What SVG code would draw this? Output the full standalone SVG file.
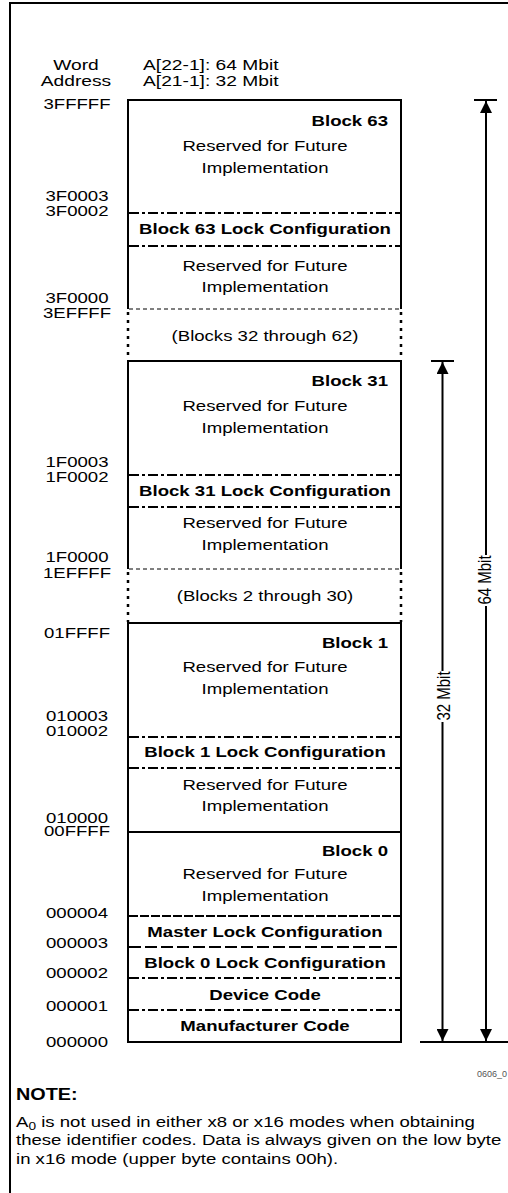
<svg xmlns="http://www.w3.org/2000/svg" width="508" height="1193" viewBox="0 0 508 1193">
<style>
text{font-family:"Liberation Sans",Arial,sans-serif;font-size:15px;fill:#000}
.h{font-size:15.5px}
.m{text-anchor:middle}
.e{text-anchor:end}
.b{font-weight:bold}
.solid{stroke:#000;stroke-width:2;fill:none}
.dd{stroke:#000;stroke-width:2;stroke-dasharray:10 3 3 3;fill:none}
.dl{stroke:#000;stroke-width:2;stroke-dasharray:12 4;fill:none}
.dt{stroke:#000;stroke-width:2;stroke-dasharray:9 2;fill:none}
.thin{stroke:#000;stroke-width:1;stroke-dasharray:4 3;fill:none}
.vdot{stroke:#000;stroke-width:2.5;stroke-dasharray:3 5;fill:none}
.ln{stroke:#000;stroke-width:2;fill:none}
</style>
<defs>
<marker id="ah" viewBox="0 0 10 10" refX="10" refY="5" markerWidth="12" markerHeight="12" markerUnits="userSpaceOnUse" orient="auto">
<path d="M0,0 L10,5 L0,10 z" fill="#000"/>
</marker>
</defs>
<rect width="508" height="1193" fill="#fff"/>
<rect x="10" y="3" width="520" height="1220" fill="none" stroke="#000" stroke-width="2"/>

<g id="header">
<text class="m h" transform="matrix(1.24 0 0 1 76 70)">Word</text>
<text class="m h" transform="matrix(1.24 0 0 1 76 86)">Address</text>
<text class="h" transform="matrix(1.24 0 0 1 143 70)">A[22-1]: 64 Mbit</text>
<text class="h" transform="matrix(1.24 0 0 1 143 86)">A[21-1]: 32 Mbit</text>
</g>

<g id="addresses">
<text class="m" transform="matrix(1.24 0 0 1 77 109)">3FFFFF</text>
<text class="m" transform="matrix(1.24 0 0 1 77 201)">3F0003</text>
<text class="m" transform="matrix(1.24 0 0 1 77 216)">3F0002</text>
<text class="m" transform="matrix(1.24 0 0 1 77 303)">3F0000</text>
<text class="m" transform="matrix(1.24 0 0 1 77 318)">3EFFFF</text>
<text class="m" transform="matrix(1.24 0 0 1 77 467)">1F0003</text>
<text class="m" transform="matrix(1.24 0 0 1 77 482)">1F0002</text>
<text class="m" transform="matrix(1.24 0 0 1 77 562)">1F0000</text>
<text class="m" transform="matrix(1.24 0 0 1 77 578)">1EFFFF</text>
<text class="m" transform="matrix(1.24 0 0 1 77 638)">01FFFF</text>
<text class="m" transform="matrix(1.24 0 0 1 77 721)">010003</text>
<text class="m" transform="matrix(1.24 0 0 1 77 736)">010002</text>
<text class="m" transform="matrix(1.24 0 0 1 77 823)">010000</text>
<text class="m" transform="matrix(1.24 0 0 1 77 836)">00FFFF</text>
<text class="m" transform="matrix(1.24 0 0 1 77 918)">000004</text>
<text class="m" transform="matrix(1.24 0 0 1 77 948)">000003</text>
<text class="m" transform="matrix(1.24 0 0 1 77 978)">000002</text>
<text class="m" transform="matrix(1.24 0 0 1 77 1011)">000001</text>
<text class="m" transform="matrix(1.24 0 0 1 77 1047)">000000</text>
</g>

<g id="block63">
<path class="solid" d="M128,309 V100 H401 V309"/>
<path class="dd" d="M129,213 H400 M129,246 H400"/>
<path class="thin" d="M129,309 H400"/>
<text class="e b" transform="matrix(1.24 0 0 1 388 126)">Block 63</text>
<text class="m" transform="matrix(1.24 0 0 1 265 151)">Reserved for Future</text>
<text class="m" transform="matrix(1.24 0 0 1 265 173)">Implementation</text>
<text class="m b" transform="matrix(1.24 0 0 1 265 234)">Block 63 Lock Configuration</text>
<text class="m" transform="matrix(1.24 0 0 1 265 271)">Reserved for Future</text>
<text class="m" transform="matrix(1.24 0 0 1 265 292)">Implementation</text>
</g>

<g id="blocks32to62">
<path class="vdot" d="M128,312 V360 M401,312 V360"/>
<text class="m" transform="matrix(1.24 0 0 1 265 341)">(Blocks 32 through 62)</text>
</g>

<g id="block31">
<path class="solid" d="M128,569 V361 H401 V569"/>
<path class="dd" d="M129,475 H400 M129,507 H400"/>
<path class="thin" d="M129,569 H400"/>
<text class="e b" transform="matrix(1.24 0 0 1 388 386)">Block 31</text>
<text class="m" transform="matrix(1.24 0 0 1 265 411)">Reserved for Future</text>
<text class="m" transform="matrix(1.24 0 0 1 265 433)">Implementation</text>
<text class="m b" transform="matrix(1.24 0 0 1 265 496)">Block 31 Lock Configuration</text>
<text class="m" transform="matrix(1.24 0 0 1 265 528)">Reserved for Future</text>
<text class="m" transform="matrix(1.24 0 0 1 265 550)">Implementation</text>
</g>

<g id="blocks2to30">
<path class="vdot" d="M128,572 V622 M401,572 V622"/>
<text class="m" transform="matrix(1.24 0 0 1 265 601)">(Blocks 2 through 30)</text>
</g>

<g id="block1">
<path class="solid" d="M128,832 V623 H401 V832"/>
<path class="dd" d="M129,737 H400 M129,768 H400"/>
<text class="e b" transform="matrix(1.24 0 0 1 388 648)">Block 1</text>
<text class="m" transform="matrix(1.24 0 0 1 265 672)">Reserved for Future</text>
<text class="m" transform="matrix(1.24 0 0 1 265 694)">Implementation</text>
<text class="m b" transform="matrix(1.24 0 0 1 265 757)">Block 1 Lock Configuration</text>
<text class="m" transform="matrix(1.24 0 0 1 265 790)">Reserved for Future</text>
<text class="m" transform="matrix(1.24 0 0 1 265 811)">Implementation</text>
</g>

<g id="block0">
<rect class="solid" x="128" y="832" width="273" height="210"/>
<path class="dt" d="M129,916 H400"/>
<path class="dl" d="M129,947 H400"/>
<path class="dd" d="M129,978 H400 M129,1010 H400"/>
<text class="e b" transform="matrix(1.24 0 0 1 388 856)">Block 0</text>
<text class="m" transform="matrix(1.24 0 0 1 265 879)">Reserved for Future</text>
<text class="m" transform="matrix(1.24 0 0 1 265 901)">Implementation</text>
<text class="m b" transform="matrix(1.24 0 0 1 265 937)">Master Lock Configuration</text>
<text class="m b" transform="matrix(1.24 0 0 1 265 968)">Block 0 Lock Configuration</text>
<text class="m b" transform="matrix(1.24 0 0 1 265 1000)">Device Code</text>
<text class="m b" transform="matrix(1.24 0 0 1 265 1031)">Manufacturer Code</text>
</g>

<g id="connectors">
<path class="ln" d="M474,100 H497 M431,361 H454 M420,1042 H508"/>
<path class="ln" d="M486,555 V101" marker-end="url(#ah)"/>
<path class="ln" d="M486,606 V1041" marker-end="url(#ah)"/>
<path class="ln" d="M442.5,671 V362" marker-end="url(#ah)"/>
<path class="ln" d="M442.5,722 V1041" marker-end="url(#ah)"/>
</g>

<g id="labels">
<text class="m" transform="translate(491,580) rotate(-90) scale(1 1.24)">64 Mbit</text>
<text class="m" transform="translate(449.5,696) rotate(-90) scale(1 1.24)">32 Mbit</text>
<text class="e" style="font-size:9px;fill:#555" transform="translate(507 1077)">0606_0</text>
</g>

<g id="note">
<text class="b" style="font-size:16px" transform="matrix(1.24 0 0 1 16 1100)">NOTE:</text>
<text transform="matrix(1.24 0 0 1 16 1127)">A<tspan dy="3" style="font-size:11px">0</tspan><tspan dy="-3"> is not used in either x8 or x16 modes when obtaining</tspan></text>
<text transform="matrix(1.24 0 0 1 16 1145)">these identifier codes. Data is always given on the low byte</text>
<text transform="matrix(1.24 0 0 1 16 1164)">in x16 mode (upper byte contains 00h).</text>
</g>
</svg>
